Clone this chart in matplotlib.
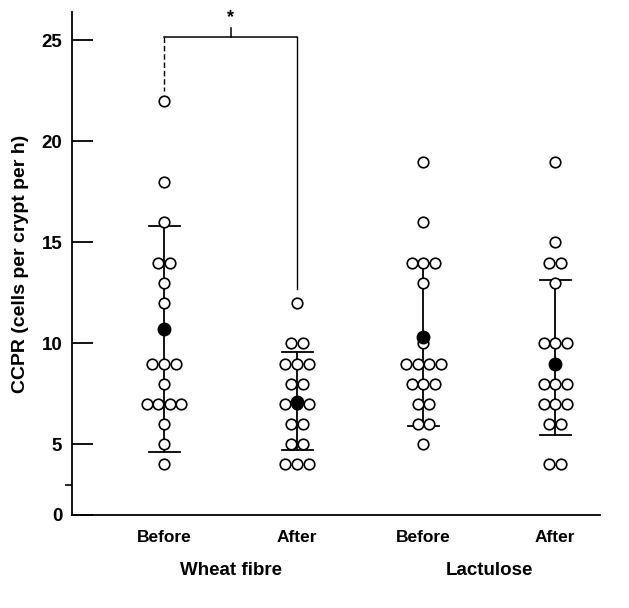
import matplotlib

matplotlib.use("Agg")
import matplotlib.pyplot as plt
import numpy as np

plt.rcParams["font.family"] = ["Liberation Sans", "DejaVu Sans"]

# data
groups = ["Wheat fibre", "Lactulose"]
phases = ["Before", "After", "Before", "After"]
xpos = [1.0, 2.0, 2.95, 3.94]
wheat_before = [22, 18, 16, 14, 14, 13, 12, 9, 9, 9, 8, 7, 7, 7, 7, 6, 5, 4]
wheat_after = [12, 10, 10, 9, 9, 9, 8, 8, 7, 7, 7, 6, 6, 5, 5, 4, 4, 4]
lact_before = [19, 16, 14, 14, 14, 13, 10, 9, 9, 9, 9, 8, 8, 8, 7, 7, 6, 6, 5]
lact_after = [19, 15, 14, 14, 13, 10, 10, 10, 8, 8, 8, 7, 7, 7, 6, 6, 4, 4]
means = [10.7, 7.1, 10.3, 9.0]
bar_low = [4.6, 4.7, 5.9, 5.45]
bar_high = [15.8, 9.55, 14.0, 13.15]

series = [wheat_before, wheat_after, lact_before, lact_after]

# the axis is broken below 5: the "0" sits at the bottom of the drawn range
Y_BOTTOM = 1.5
yticks = [Y_BOTTOM, 5, 10, 15, 20, 25]
ytick_labels = ["0", "5", "10", "15", "20", "25"]

STEP = 0.087   # horizontal spacing of tied circles
CAP = 0.117


def swarm(vals):
    vals = np.asarray(vals, float)
    off = np.zeros_like(vals)
    for v in np.unique(vals):
        idx = np.where(vals == v)[0]
        n = len(idx)
        off[idx] = (np.arange(n) - (n - 1) / 2) * STEP
    return off


fig = plt.figure(figsize=(6.29, 6.08), dpi=100)
ax = fig.add_axes([0.1145, 0.153, 0.8395, 0.827])

for x, vals, m, lo, hi in zip(xpos, series, means, bar_low, bar_high):
    ax.plot([x, x], [lo, hi], color="black", lw=1.3, zorder=1)
    ax.plot([x - CAP, x + CAP], [lo, lo], color="black", lw=1.3, zorder=1)
    ax.plot([x - CAP, x + CAP], [hi, hi], color="black", lw=1.3, zorder=1)
    ax.plot(x + swarm(vals), vals, "o", ms=7.6, mfc="white", mec="black",
            mew=1.2, zorder=2)
    ax.plot([x], [m], "o", ms=9, color="black", zorder=3)

# significance bracket between wheat fibre before / after
yb = 25.15
ax.plot([xpos[0], xpos[1]], [yb, yb], color="black", lw=1.1, clip_on=False)
ax.plot([xpos[0], xpos[0]], [yb, 22.5], color="black", lw=1.0,
        ls=(0, (4, 2)), clip_on=False)
ax.plot([xpos[1], xpos[1]], [yb, 12.7], color="black", lw=1.0, clip_on=False)
xm = (xpos[0] + xpos[1]) / 2
ax.plot([xm, xm], [yb, 25.6], color="black", lw=1.1, clip_on=False)
ax.text(xm, 25.7, "*", ha="center", va="bottom", fontsize=13,
        fontweight="bold", clip_on=False)

ax.set_xlim(0.308, 4.278)
ax.set_ylim(Y_BOTTOM, 26.4)
for s in ["top", "right"]:
    ax.spines[s].set_visible(False)
ax.spines["left"].set_linewidth(1.3)
ax.spines["bottom"].set_linewidth(1.3)

ax.set_yticks(yticks)
ax.set_yticklabels(ytick_labels)
ax.tick_params(axis="y", direction="in", length=15, width=1.3, pad=7,
               labelsize=13.5)
ax.set_yticks([3.0], minor=True)
ax.tick_params(axis="y", which="minor", direction="out", length=5, width=1.2)
for t in ax.get_yticklabels():
    t.set_fontweight("bold")

ax.set_xticks(xpos)
ax.set_xticklabels(phases, fontsize=12.5, fontweight="bold")
ax.tick_params(axis="x", length=0, pad=11)

for g, (a, b) in zip(groups, [(0, 1), (2, 3)]):
    ax.text((xpos[a] + xpos[b]) / 2, -0.111, g, transform=ax.get_xaxis_transform(),
            ha="center", va="center", fontsize=13.5, fontweight="bold")

ax.set_ylabel("CCPR (cells per crypt per h)", fontsize=14, fontweight="bold",
              labelpad=9)

fig.savefig("out.png", dpi=100)
